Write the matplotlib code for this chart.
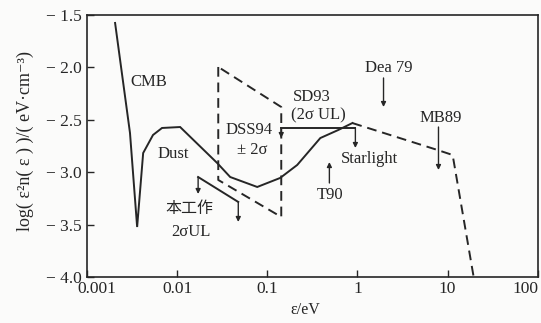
import matplotlib
matplotlib.use("Agg")
import matplotlib.pyplot as plt
import matplotlib.transforms as mtransforms
import numpy as np

# ---- data (energies in eV, values are log10(eps^2 n(eps)) in eV cm^-3) ----
bg_x = [0.00205, 0.0030, 0.0036, 0.0042, 0.0054, 0.0068, 0.0108, 0.0278,
        0.0388, 0.0774, 0.139, 0.215, 0.388, 0.615, 0.88]
bg_y = [-1.576, -2.626, -3.523, -2.817, -2.645, -2.578, -2.569, -2.912,
        -3.046, -3.141, -3.055, -2.931, -2.674, -2.597, -2.531]

uv_x = [0.88, 7.74, 11.4, 19.5]
uv_y = [-2.531, -2.788, -2.836, -4.0]

dss_x = [0.0286, 0.0286, 0.143, 0.143, 0.0286]
dss_y = [-1.996, -3.074, -3.427, -2.378, -1.996]

sd93_x = [0.143, 0.95]
sd93_y = [-2.578, -2.578]
sd93_arrow_tip = [-2.674, -2.769]

tw_x = [0.0171, 0.0477]
tw_y = [-3.046, -3.284]
tw_arrow_tip = [-3.208, -3.475]

dea79_x = 1.95
dea79_y = [-2.101, -2.378]
mb89_x = 7.94
mb89_y = [-2.569, -2.979]
t90_x = 0.489
t90_y = [-3.103, -2.903]

xticks = [0.001, 0.01, 0.1, 1, 10, 100]
xticklabels = ["0.001", "0.01", "0.1", "1", "10", "100"]
yticks = [-1.5, -2.0, -2.5, -3.0, -3.5, -4.0]
yticklabels = ["\u2212 1.5", "\u2212 2.0", "\u2212 2.5", "\u2212 3.0", "\u2212 3.5", "\u2212 4.0"]

labels = [
    ("CMB", 0.00489, -2.139),
    ("Dust", 0.00903, -2.826),
    ("DSS94", 0.0631, -2.597),
    ("\u00b1 2\u03c3", 0.0681, -2.788),
    ("SD93", 0.308, -2.282),
    ("(2\u03c3 UL)", 0.369, -2.454),
    ("Starlight", 1.36, -2.874),
    ("T90", 0.501, -3.218),
    ("Dea 79", 2.21, -2.006),
    ("MB89", 8.36, -2.483),
    ("2\u03c3UL", 0.0143, -3.571),
]
cjk_label = ("本工作", 0.0136, -3.342)

# ---- style ----
INK = "#262626"
SERIF = ["Liberation Serif", "DejaVu Serif"]
plt.rcParams["font.family"] = SERIF

fig = plt.figure(figsize=(5.41, 3.23), dpi=100)
fig.patch.set_facecolor("#fbfbfa")
ax = fig.add_axes([0.1608, 0.1424, 0.833, 0.8112])
ax.set_facecolor("#fbfbfa")

ax.set_xscale("log")
ax.set_xlim(0.001, 100)
ax.set_ylim(-4.0, -1.5)

lw = 1.4
dash = (0, (5, 3))
ax.plot(bg_x, bg_y, color=INK, lw=lw, solid_joinstyle="miter")
ax.plot(uv_x, uv_y, color=INK, lw=lw, linestyle=dash)
ax.plot(dss_x, dss_y, color=INK, lw=lw, linestyle=dash)
ax.plot(sd93_x, sd93_y, color=INK, lw=lw)
ax.plot(tw_x, tw_y, color=INK, lw=lw)

def arrow(x, y0, y1):
    ax.annotate("", xy=(x, y1), xytext=(x, y0),
                arrowprops=dict(arrowstyle="-|>", color=INK, lw=1.0,
                                mutation_scale=7, shrinkA=0, shrinkB=0))

arrow(sd93_x[0], sd93_y[0], sd93_arrow_tip[0])
arrow(sd93_x[1], sd93_y[1], sd93_arrow_tip[1])
arrow(tw_x[0], tw_y[0], tw_arrow_tip[0])
arrow(tw_x[1], tw_y[1], tw_arrow_tip[1])
arrow(dea79_x, dea79_y[0], dea79_y[1])
arrow(mb89_x, mb89_y[0], mb89_y[1])
arrow(t90_x, t90_y[0], t90_y[1])

for txt, x, y in labels:
    ax.text(x, y, txt, ha="center", va="center", fontsize=12, color=INK)
ax.text(cjk_label[1], cjk_label[2], cjk_label[0], ha="center", va="center",
        fontsize=11.5, color=INK, family=["Noto Sans CJK SC", "DejaVu Sans"])

ax.set_xticks(xticks)
ax.set_xticklabels(xticklabels)
ax.set_yticks(yticks)
ax.set_yticklabels(yticklabels)
ax.minorticks_off()
ax.tick_params(direction="in", length=5, width=1.0, colors=INK,
               labelsize=12.5, pad=4)
ax.tick_params(axis="x", pad=3)
for sp in ax.spines.values():
    sp.set_color(INK)
    sp.set_linewidth(1.2)

# shift end tick labels inward like the reference
tl = ax.get_xticklabels()
tl[0].set_transform(tl[0].get_transform() +
                    mtransforms.ScaledTranslation(10 / 100, 0, fig.dpi_scale_trans))
tl[-1].set_transform(tl[-1].get_transform() +
                     mtransforms.ScaledTranslation(-12 / 100, 0, fig.dpi_scale_trans))

fig.text(305 / 541, 1 - 310 / 323, "\u03b5/eV", ha="center", va="center",
         fontsize=11.5, color=INK)
fig.text(25 / 541, 1 - 141 / 323,
         "log( \u03b5\u00b2n( \u03b5 ) )/( eV\u00b7cm\u207b\u00b3)",
         rotation=90, ha="center", va="center", fontsize=13, color=INK)

fig.savefig("out.png", dpi=100, facecolor=fig.get_facecolor())
